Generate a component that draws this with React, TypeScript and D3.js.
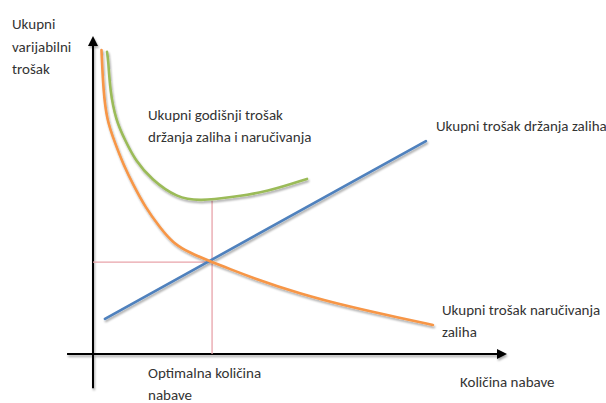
import * as d3 from 'd3'

// Curves (quantity, cost) in arbitrary 0..100 units
const orderingCost: [number, number][] = [
  [2.06, 96.2], [2.5, 83.5], [3.33, 74.1], [5.34, 66.8], [7.35, 60.0], [9.78, 53.5],
  [12.62, 46.6], [16.26, 40.0], [19.42, 35.1], [23.5, 32.0], [28.88, 29.1], [33.25, 26.9],
  [38.1, 24.4], [50.24, 19.0], [62.38, 14.9], [74.5, 11.4], [82.5, 9.2],
]
const totalCost: [number, number][] = [
  [3.4, 95.6], [3.71, 93.0], [4.13, 83.5], [5.51, 74.1], [7.77, 67.7], [10.19, 61.4],
  [14.25, 55.1], [20.39, 49.4], [25.97, 48.4], [33.98, 49.7], [42.23, 51.3], [51.94, 55.4],
]
const holdingCost: [number, number][] = [[2.9, 11.1], [80.8, 67.4]]
const optimum = { q: 28.9, c: 29.1, top: 48.6 }

const yTitle = ['Ukupni', 'varijabilni', 'trošak']
const totalLabel = ['Ukupni godišnji trošak', 'držanja zaliha i naručivanja']
const holdingLabel = ['Ukupni trošak držanja zaliha']
const orderingLabel = ['Ukupni trošak naručivanja', 'zaliha']
const optimumLabel = ['Optimalna količina', 'nabave']
const xTitle = 'Količina nabave'

const W = 606
const H = 403
const FONT = 'Carlito, Calibri, Lato, sans-serif'
const TEXT = '#333'
const FS = 15

export default function App() {
  const x = d3.scaleLinear().domain([0, 100]).range([93, 505])
  const y = d3.scaleLinear().domain([0, 100]).range([354, 38])

  const line = d3.line<[number, number]>().x(d => x(d[0])).y(d => y(d[1]))
  const smooth = d3.line<[number, number]>().x(d => x(d[0])).y(d => y(d[1])).curve(d3.curveBasis)

  const lines = (rows: string[], lx: number, ly: number, gap = 22) =>
    rows.map((t, i) => (
      <text key={i} x={lx} y={ly + i * gap} fill={TEXT} fontSize={FS} fontFamily={FONT}>{t}</text>
    ))

  return (
    <svg width={W} height={H} style={{ position: 'fixed', left: 0, top: 0, background: '#fff' }}>
      <defs>
        <filter id="shadow" x="-10%" y="-10%" width="120%" height="120%">
          <feGaussianBlur in="SourceAlpha" stdDeviation="1.2" />
          <feOffset dx="1" dy="1.5" result="off" />
          <feComponentTransfer><feFuncA type="linear" slope="0.35" /></feComponentTransfer>
          <feMerge>
            <feMergeNode />
            <feMergeNode in="SourceGraphic" />
          </feMerge>
        </filter>
        <marker id="arrow" viewBox="0 0 10 10" refX="8" refY="5" markerWidth="5" markerHeight="5" orient="auto">
          <path d="M0,0 L10,5 L0,10 Z" fill="#000" />
        </marker>
      </defs>

      {/* axes */}
      <g filter="url(#shadow)">
        <line x1={x(-6.3)} y1={y(0)} x2={x(100)} y2={y(0)} stroke="#000" strokeWidth={2} markerEnd="url(#arrow)" />
        <line x1={x(0)} y1={y(-10.8)} x2={x(0)} y2={y(100)} stroke="#000" strokeWidth={2} markerEnd="url(#arrow)" />
      </g>

      {/* optimum guides */}
      <line x1={x(0)} y1={y(optimum.c)} x2={x(optimum.q)} y2={y(optimum.c)} stroke="#e8a3aa" strokeWidth={1.3} />
      <line x1={x(optimum.q)} y1={y(0)} x2={x(optimum.q)} y2={y(optimum.top)} stroke="#e8a3aa" strokeWidth={1.3} />

      <g filter="url(#shadow)" fill="none" strokeWidth={2.6} strokeLinecap="round">
        <path d={line(holdingCost) ?? ''} stroke="#4f81bd" />
        <path d={smooth(orderingCost) ?? ''} stroke="#f79646" />
        <path d={smooth(totalCost) ?? ''} stroke="#9bbb59" />
      </g>

      {lines(yTitle, 12, 29, 22.5)}
      {lines(totalLabel, 148, 120, 22)}
      {lines(holdingLabel, 436, 131)}
      {lines(orderingLabel, 442, 315, 22)}
      {lines(optimumLabel, 148, 378, 22)}
      <text x={460} y={387} fill={TEXT} fontSize={FS} fontFamily={FONT}>{xTitle}</text>
    </svg>
  )
}
